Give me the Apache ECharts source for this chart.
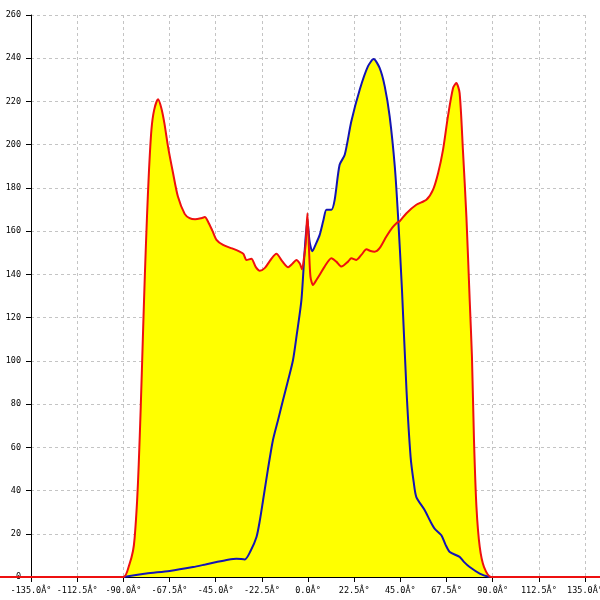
<!DOCTYPE html>
<html>
<head>
<meta charset="utf-8">
<script src="https://cdn.jsdelivr.net/npm/echarts@6/dist/echarts.min.js"></script>
<style>html,body{margin:0;padding:0;background:#fff;}#c{width:600px;height:600px;}</style>
</head>
<body>
<div id="c"></div>
<script>
var xTicks = [-135, -112.5, -90, -67.5, -45, -22.5, 0, 22.5, 45, 67.5, 90, 112.5, 135];
var yTicks = [0, 20, 40, 60, 80, 100, 120, 140, 160, 180, 200, 220, 240, 260];

var redAngles = [-155, -90, -87, -85.3, -84.5, -83.3, -82.5, -81.5, -80.5, -79.5, -78.5, -77.5, -76.3, -75, -73.1, -71.5, -70, -68.2, -65.8, -63.4, -60.1, -57.7, -55, -52, -50.3, -48.7, -46.5, -44.6, -41.4, -37, -33.3, -31.5, -30, -27.6, -25.5, -23.5, -21, -18, -15.4, -12.5, -9.7, -7.5, -5.7, -4, -2.9, -1.9, -1.1, -0.3, 0.5, 1.2, 2.4, 4.1, 5.7, 8.1, 11.4, 13.8, 16.3, 19.5, 21.1, 23.6, 26, 28.5, 30.5, 32.5, 34.9, 38.2, 41, 43.1, 44.7, 48, 52.8, 57.7, 60.9, 63.4, 65.8, 68.2, 70.7, 72.3, 73.9, 75.5, 77.2, 78.8, 79.9, 80.9, 82.1, 83.7, 85.8, 89.4, 150];
var redValues = [0, 0, 6, 12, 18, 35, 52, 79, 110, 140, 166, 188, 207, 216, 221, 217, 210, 199, 187, 176, 168, 166, 165.5, 166, 166.5, 164.4, 160, 156, 153.6, 152, 150.5, 149.5, 146.7, 147.2, 143.5, 141.7, 143, 147, 149.5, 146, 143.3, 145, 146.7, 145, 142.4, 148, 154.4, 168.3, 151.3, 139, 135.1, 137.4, 139.8, 143.6, 147.5, 145.9, 143.6, 145.9, 147.5, 146.7, 149, 151.6, 150.8, 150.5, 152.1, 157.5, 161.5, 163.7, 164.6, 168.3, 172.2, 174.5, 179.1, 186.8, 197.6, 213.1, 226.2, 228.5, 223.9, 197.6, 166.7, 128.2, 102, 63.3, 32.4, 13.9, 4.6, 0, 0];

var blueAngles = [-90, -78.8, -67.4, -56, -50, -44.6, -39, -34.9, -30.8, -28, -25.1, -23.5, -21.9, -19.5, -17.1, -14.5, -12.2, -9.7, -7.3, -5.5, -3.2, -1.6, -0.3, 0.8, 2.1, 3.8, 5.7, 7.5, 9, 11.4, 13, 15.4, 17.9, 21.1, 25.2, 29.2, 32, 34.9, 37.4, 39.8, 42.3, 43.9, 45.8, 48, 50, 51.5, 52.8, 56.9, 59.5, 61.7, 65, 67, 69.1, 73.9, 76, 78.8, 83.7, 88.5];
var blueValues = [0, 1.6, 2.8, 4.6, 5.8, 6.9, 8, 8.5, 8.1, 12, 18.5, 26, 35.5, 50, 63.3, 73, 81.8, 91, 100.4, 112, 128.2, 151.3, 165, 155, 150.7, 154, 158.3, 165, 169.9, 169.9, 174.5, 190.7, 195.3, 210.7, 225.4, 236.2, 239.6, 235.5, 227, 213.1, 189.9, 166.7, 132.9, 86.5, 55.6, 44, 37, 30.9, 26, 22.4, 19.3, 15, 11.6, 9.3, 7, 4.6, 1.6, 0];

function pairs(xs, ys) { return xs.map(function (x, i) { return [x, ys[i]]; }); }
var redData = pairs(redAngles, redValues);
var blueData = pairs(blueAngles, blueValues);

var W = 600, L = 31, R = 15, T = 15, B = 23;
var xMin = xTicks[0], xMax = xTicks[xTicks.length - 1];
var pxPerDeg = (W - L - R) / (xMax - xMin);
// full-width twin axis with the same scale, so the red baseline runs to the page edges
var fullMin = xMin - L / pxPerDeg, fullMax = xMax + R / pxPerDeg;

var FONT = 'DejaVu Sans Mono';
var chart = echarts.init(document.getElementById('c'), null, { renderer: 'canvas' });
chart.setOption({
  animation: false,
  backgroundColor: '#ffffff',
  grid: [
    { left: L, right: R, top: T, bottom: B, containLabel: false, outerBoundsMode: 'none' },
    { left: 0, right: 0, top: T, bottom: B, containLabel: false, outerBoundsMode: 'none' }
  ],
  xAxis: [{
    type: 'value', gridIndex: 0,
    min: xMin, max: xMax, interval: 22.5,
    axisLine: { onZero: false, lineStyle: { color: '#000', width: 1 } },
    axisTick: { show: true, inside: false, length: 5, lineStyle: { color: '#000' } },
    axisLabel: {
      color: '#000', fontFamily: FONT, fontSize: 8.5, margin: 9, hideOverlap: false,
      formatter: function (v) { return v.toFixed(1) + 'Â°'; }
    },
    splitLine: { show: true, lineStyle: { color: '#c4c4c4', type: [3, 3], width: 1 } }
  }, {
    type: 'value', gridIndex: 1, min: fullMin, max: fullMax, show: false
  }],
  yAxis: [{
    type: 'value', gridIndex: 0,
    min: yTicks[0], max: yTicks[yTicks.length - 1], interval: 20,
    axisLine: { show: true, onZero: false, lineStyle: { color: '#000', width: 1 } },
    axisTick: { show: true, inside: false, length: 5, lineStyle: { color: '#000' } },
    axisLabel: { color: '#000', fontFamily: FONT, fontSize: 8.5, margin: 10 },
    splitLine: { show: true, lineStyle: { color: '#c4c4c4', type: [3, 3], width: 1 } }
  }, {
    type: 'value', gridIndex: 1, min: yTicks[0], max: yTicks[yTicks.length - 1], show: false
  }],
  series: [
    { type: 'line', data: blueData, showSymbol: false, smooth: 0.25, z: 2,
      lineStyle: { width: 0, opacity: 0 }, areaStyle: { color: '#ffff00', opacity: 1 } },
    { type: 'line', data: redData, showSymbol: false, smooth: 0.25, z: 2,
      lineStyle: { width: 0, opacity: 0 }, areaStyle: { color: '#ffff00', opacity: 1 } },
    { type: 'line', data: blueData, showSymbol: false, smooth: 0.25, z: 3,
      lineStyle: { width: 2, color: '#1414b4' } },
    { type: 'line', data: redData, xAxisIndex: 1, yAxisIndex: 1, showSymbol: false, smooth: 0.25, z: 4,
      lineStyle: { width: 2, color: '#ee1010' } }
  ]
});
</script>
</body>
</html>
